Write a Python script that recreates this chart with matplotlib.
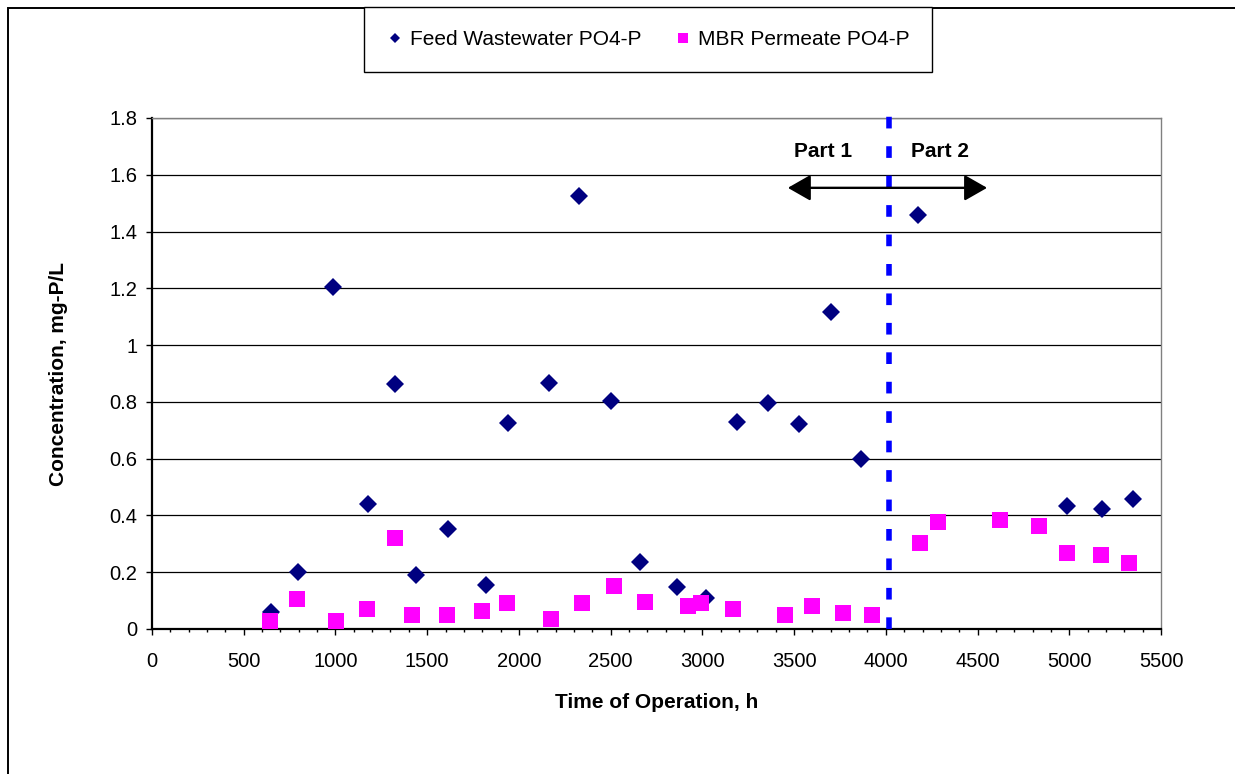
import matplotlib
matplotlib.use("Agg")
import matplotlib.pyplot as plt
from matplotlib.patches import Rectangle
from matplotlib.ticker import MultipleLocator, FuncFormatter

plt.rcParams['font.family'] = ['Liberation Sans', 'DejaVu Sans']

# -------------------------
# Data
# -------------------------
feed_hours = [649, 797, 988, 1178, 1327, 1441, 1611, 1823, 1939, 2162, 2330, 2501,
              2660, 2862, 3021, 3190, 3359, 3528, 3700, 3867, 4176, 4989, 5178, 5347]
feed_po4 = [0.061, 0.202, 1.206, 0.44, 0.863, 0.19, 0.352, 0.155, 0.727, 0.868, 1.525, 0.803,
            0.237, 0.148, 0.109, 0.728, 0.797, 0.721, 1.118, 0.599, 1.458, 0.434, 0.421, 0.457]

perm_hours = [644, 791, 1003, 1173, 1322, 1417, 1607, 1797, 1935, 2177, 2345, 2516, 2687,
              2920, 2993, 3165, 3452, 3597, 3766, 3927, 4189, 4287, 4625, 4837, 4985, 5172, 5323]
perm_po4 = [0.029, 0.105, 0.029, 0.069, 0.322, 0.048, 0.048, 0.063, 0.09, 0.036, 0.09, 0.151, 0.096,
            0.082, 0.09, 0.069, 0.049, 0.082, 0.055, 0.049, 0.302, 0.376, 0.384, 0.364, 0.268, 0.261, 0.234]

part_boundary = 4015          # h, end of Part 1
arrow_span = (3466, 4552)     # h
arrow_level = 1.554
part_label_level = 1.662
part_labels = [("Part 1", 3659), ("Part 2", 4298)]

# -------------------------
# Figure
# -------------------------
W, H = 1235, 774
fig = plt.figure(figsize=(W / 100, H / 100), dpi=100)
ax = fig.add_axes([152 / W, 1 - 629 / H, (1161 - 152) / W, (629 - 118) / H])

# outer chart frame (runs off the right and bottom edges)
fig.add_artist(Rectangle((8 / W, -0.1), 1.2, 1 - 8 / H + 0.1, transform=fig.transFigure,
                         fill=False, ec='black', lw=1.4))

feed_line, = ax.plot(feed_hours, feed_po4, ls='none', marker='D', ms=8.8,
                     color='#000080', mew=0, zorder=3, label='Feed Wastewater PO4-P')
perm_line, = ax.plot(perm_hours, perm_po4, ls='none', marker='s', ms=11,
                     color='#FF00FF', mew=0, zorder=4, label='MBR Permeate PO4-P')

ax.axvline(part_boundary, ymin=0, ymax=1.016, color='#0000FF', lw=4,
           ls=(0, (2.1, 3.2)), clip_on=False, zorder=5)

ax.annotate('', xy=(arrow_span[0], arrow_level), xytext=(arrow_span[1], arrow_level),
            arrowprops=dict(arrowstyle='<|-|>,head_length=0.7,head_width=0.4',
                            mutation_scale=20, color='black', lw=1.7,
                            shrinkA=0, shrinkB=0), zorder=6)
for txt, xpos in part_labels:
    ax.text(xpos, part_label_level, txt, ha='center', va='baseline',
            fontsize=15, fontweight='bold')

# axes
ax.set_xlim(0, 5500)
ax.set_ylim(0, 1.8)
ax.xaxis.set_major_locator(MultipleLocator(500))
ax.xaxis.set_minor_locator(MultipleLocator(100))
ax.yaxis.set_major_locator(MultipleLocator(0.2))
ax.yaxis.set_major_formatter(FuncFormatter(lambda v, p: f'{v:g}'))
ax.tick_params(axis='x', which='major', length=4.5, width=1, pad=12, labelsize=14.5)
ax.tick_params(axis='x', which='minor', length=2.3, width=1)
ax.tick_params(axis='y', which='major', length=4.5, width=1, pad=6, labelsize=14.5)

ax.yaxis.grid(True, color='black', lw=0.9)
ax.set_axisbelow(True)
ax.spines['left'].set_linewidth(1.6)
ax.spines['bottom'].set_linewidth(1.6)
for s in ('top', 'right'):
    ax.spines[s].set_color('#808080')
    ax.spines[s].set_linewidth(1.0)

ax.set_xlabel('Time of Operation, h', fontsize=15, fontweight='bold')
ax.set_ylabel('Concentration, mg-P/L', fontsize=15, fontweight='bold')
ax.xaxis.set_label_coords(0.5, -0.125)
ax.yaxis.set_label_coords(-0.083, 0.5)

leg = fig.legend(handles=[feed_line, perm_line], loc='upper left',
                 bbox_to_anchor=(364 / W, 1 - 7 / H), ncol=2, fontsize=15,
                 frameon=True, fancybox=False, edgecolor='black', framealpha=1,
                 borderaxespad=0, borderpad=1.1, handlelength=0.8, handletextpad=0.3,
                 columnspacing=1.6, markerscale=0.62)
leg.get_frame().set_linewidth(1.0)

fig.savefig('out.png', dpi=100)
